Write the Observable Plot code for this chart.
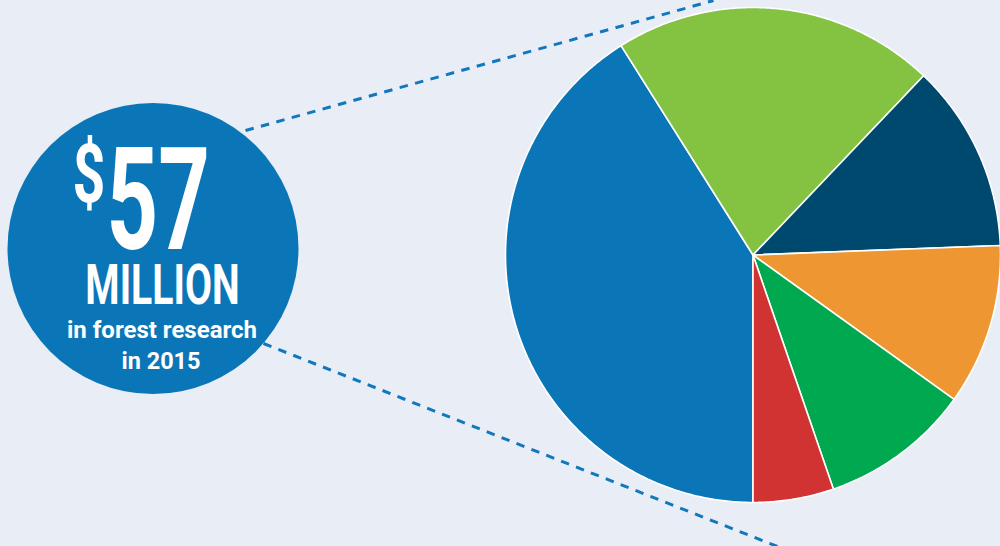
<!DOCTYPE html>
<html>
<head>
<meta charset="utf-8">
<script src="https://cdn.jsdelivr.net/npm/d3@7"></script>
<script src="https://cdn.jsdelivr.net/npm/@observablehq/plot@0.6"></script>
<style>
  html, body { margin: 0; padding: 0; background: #e9edf5; }
  #chart { width: 1000px; height: 546px; overflow: hidden; }
</style>
</head>
<body>
<div id="chart"></div>
<script>
// ---- Data (US$ millions, forest research funding 2015) ----
const categories = ["Segment A", "Segment B", "Segment C", "Segment D", "Segment E", "Segment F"];
const values = [23.4, 12, 7, 6, 5.6, 3];
const colors = ["#0b76b7", "#84c341", "#00496e", "#ee9732", "#00a84f", "#d13232"];

const headline = "57";
const currency = "$";
const unitLabel = "MILLION";
const subLines = ["in forest research", "in 2015"];

// ---- Layout (pixel space used as scale domain) ----
const W = 1000, H = 546;
const bg = "#e9edf5";
const pie = {cx: 752.5, cy: 254.5, r: 247.5};
const badge = {cx: 152.5, cy: 248, r: 145.5};

// Build slice polygons from the data via d3.pie
const arcs = d3.pie().sort(null).startAngle(Math.PI).endAngle(3 * Math.PI)(values);
const slicePts = [];
arcs.forEach((a, i) => {
  const key = categories[i];
  slicePts.push({key, x: pie.cx, y: pie.cy});
  const n = Math.max(2, Math.ceil((a.endAngle - a.startAngle) / (Math.PI / 360)));
  for (let k = 0; k <= n; k++) {
    const t = a.startAngle + (a.endAngle - a.startAngle) * k / n;
    slicePts.push({key, x: pie.cx + pie.r * Math.sin(t), y: pie.cy - pie.r * Math.cos(t)});
  }
});

const guides = [
  {x1: 245, y1: 130, x2: 713, y2: 0},
  {x1: 263, y1: 343, x2: 777, y2: 546}
];

const texts = [
  {t: currency, x: 72, y: 201, size: 82, anchor: "start", sx: 0.7},
  {t: headline, x: 106, y: 248, size: 143, anchor: "start", sx: 0.63},
  {t: unitLabel, x: 162, y: 303, size: 56, anchor: "middle", sx: 0.7},
  {t: subLines[0], x: 161.5, y: 337, size: 24, anchor: "middle", sx: 1},
  {t: subLines[1], x: 160.5, y: 368, size: 23.5, anchor: "middle", sx: 1}
];

const chart = Plot.plot({
  width: W,
  height: H,
  margin: 0,
  x: {domain: [0, W], range: [0, W], axis: null},
  y: {domain: [0, H], range: [0, H], axis: null},
  color: {domain: categories, range: colors},
  style: {background: bg, overflow: "hidden"},
  marks: [
    Plot.link(guides, {x1: "x1", y1: "y1", x2: "x2", y2: "y2", stroke: "#1178bd", strokeWidth: 3, strokeDasharray: "8.5,7.5"}),
    Plot.line(slicePts, {x: "x", y: "y", z: "key", fill: "key", stroke: "white", strokeWidth: 1.6, strokeLinejoin: "round", curve: "linear-closed"}),
    Plot.dot([badge], {x: "cx", y: "cy", r: badge.r, fill: colors[0], stroke: "none"}),
    ...texts.map(d => Plot.text([d], {
      x: "x", y: "y", text: "t", fontSize: d.size, textAnchor: d.anchor,
      lineAnchor: "bottom", fill: "white", fontWeight: "bold",
      fontFamily: "Roboto, 'DejaVu Sans', sans-serif"
    }))
  ]
});

// Condense the headline texts horizontally (DIN-condensed look)
d3.select(chart).selectAll("text").each(function () {
  const d = texts.find(e => e.t === this.textContent);
  if (!d || d.sx === 1) return;
  const tr = this.getAttribute("transform");
  if (tr) this.setAttribute("transform", tr + ` scale(${d.sx},1)`);
  else {
    const x = +this.getAttribute("x") || 0, y = +this.getAttribute("y") || 0;
    this.removeAttribute("x"); this.removeAttribute("y");
    this.setAttribute("transform", `translate(${x},${y}) scale(${d.sx},1)`);
  }
});

document.getElementById("chart").appendChild(chart);
</script>
</body>
</html>
